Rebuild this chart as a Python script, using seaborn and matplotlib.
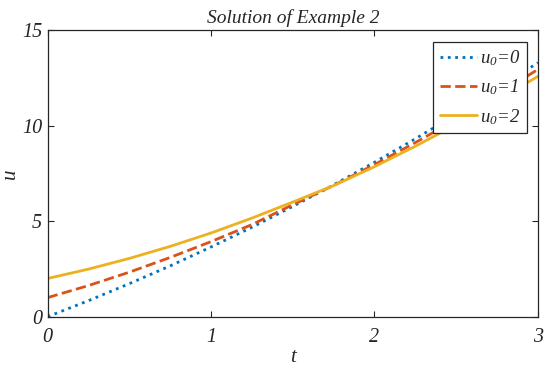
import matplotlib
matplotlib.use("Agg")
import matplotlib.pyplot as plt
import seaborn as sns
import pandas as pd

# values
t = [0, 0.25, 0.5, 0.75, 1.0, 1.25, 1.5, 1.75, 2.0, 2.25, 2.5, 2.75, 3.0]
u0_0 = [0.0, 0.84, 1.73, 2.66, 3.65, 4.68, 5.77, 6.90, 8.08, 9.31, 10.59, 11.91, 13.29]
u0_1 = [1.0, 1.63, 2.33, 3.10, 3.93, 4.82, 5.86, 6.87, 7.96, 9.11, 10.32, 11.60, 12.94]
u0_2 = [2.0, 2.49, 3.05, 3.68, 4.38, 5.16, 6.00, 6.86, 7.85, 8.92, 10.06, 11.29, 12.58]
labels = ["$u_0$=0", "$u_0$=1", "$u_0$=2"]
colors = ["#0072BD", "#D95319", "#EDB120"]
styles = [":", "--", "-"]

sns.set_style("ticks")
plt.rcParams["font.family"] = ["Liberation Serif", "DejaVu Serif"]
plt.rcParams["font.style"] = "italic"
plt.rcParams["mathtext.fontset"] = "custom"
plt.rcParams["mathtext.rm"] = "Liberation Serif:italic"
plt.rcParams["mathtext.it"] = "Liberation Serif:italic"

fig = plt.figure(figsize=(5.5, 3.71), dpi=100)
ax = fig.add_axes([0.0867, 0.1464, 0.8913, 0.7726])

for ys, lab, c, ls in zip([u0_0, u0_1, u0_2], labels, colors, styles):
    df = pd.DataFrame({"t": t, "u": ys})
    sns.lineplot(data=df, x="t", y="u", ax=ax, color=c, linestyle=ls, linewidth=2.0, label=lab)

ax.set_xlim(0, 3)
ax.set_ylim(0, 15)
ax.set_xticks([0, 1, 2, 3])
ax.set_yticks([0, 5, 10, 15])
ax.tick_params(direction="in", top=True, right=True, length=4, width=0.8,
               labelsize=14.5, colors="#262626")
ax.tick_params(axis="x", pad=8)
ax.tick_params(axis="y", pad=4)
for s in ax.spines.values():
    s.set_color("#262626")
    s.set_linewidth(0.9)
ax.set_xlabel("t", fontsize=15)
ax.set_ylabel("u", fontsize=15)
ax.xaxis.set_label_coords(0.5, -0.11)
ax.yaxis.set_label_coords(-0.056, 0.5)
ax.set_title("Solution of Example 2", fontsize=14, pad=5)

leg = ax.legend(loc="upper right", bbox_to_anchor=(0.978, 0.958), fontsize=13.5,
                frameon=True, fancybox=False, framealpha=1, edgecolor="#262626",
                handlelength=1.95, borderpad=0.35, labelspacing=0.5, handletextpad=0.2,
                borderaxespad=0)
leg.get_frame().set_linewidth(0.9)

fig.savefig("out.png", dpi=100)
